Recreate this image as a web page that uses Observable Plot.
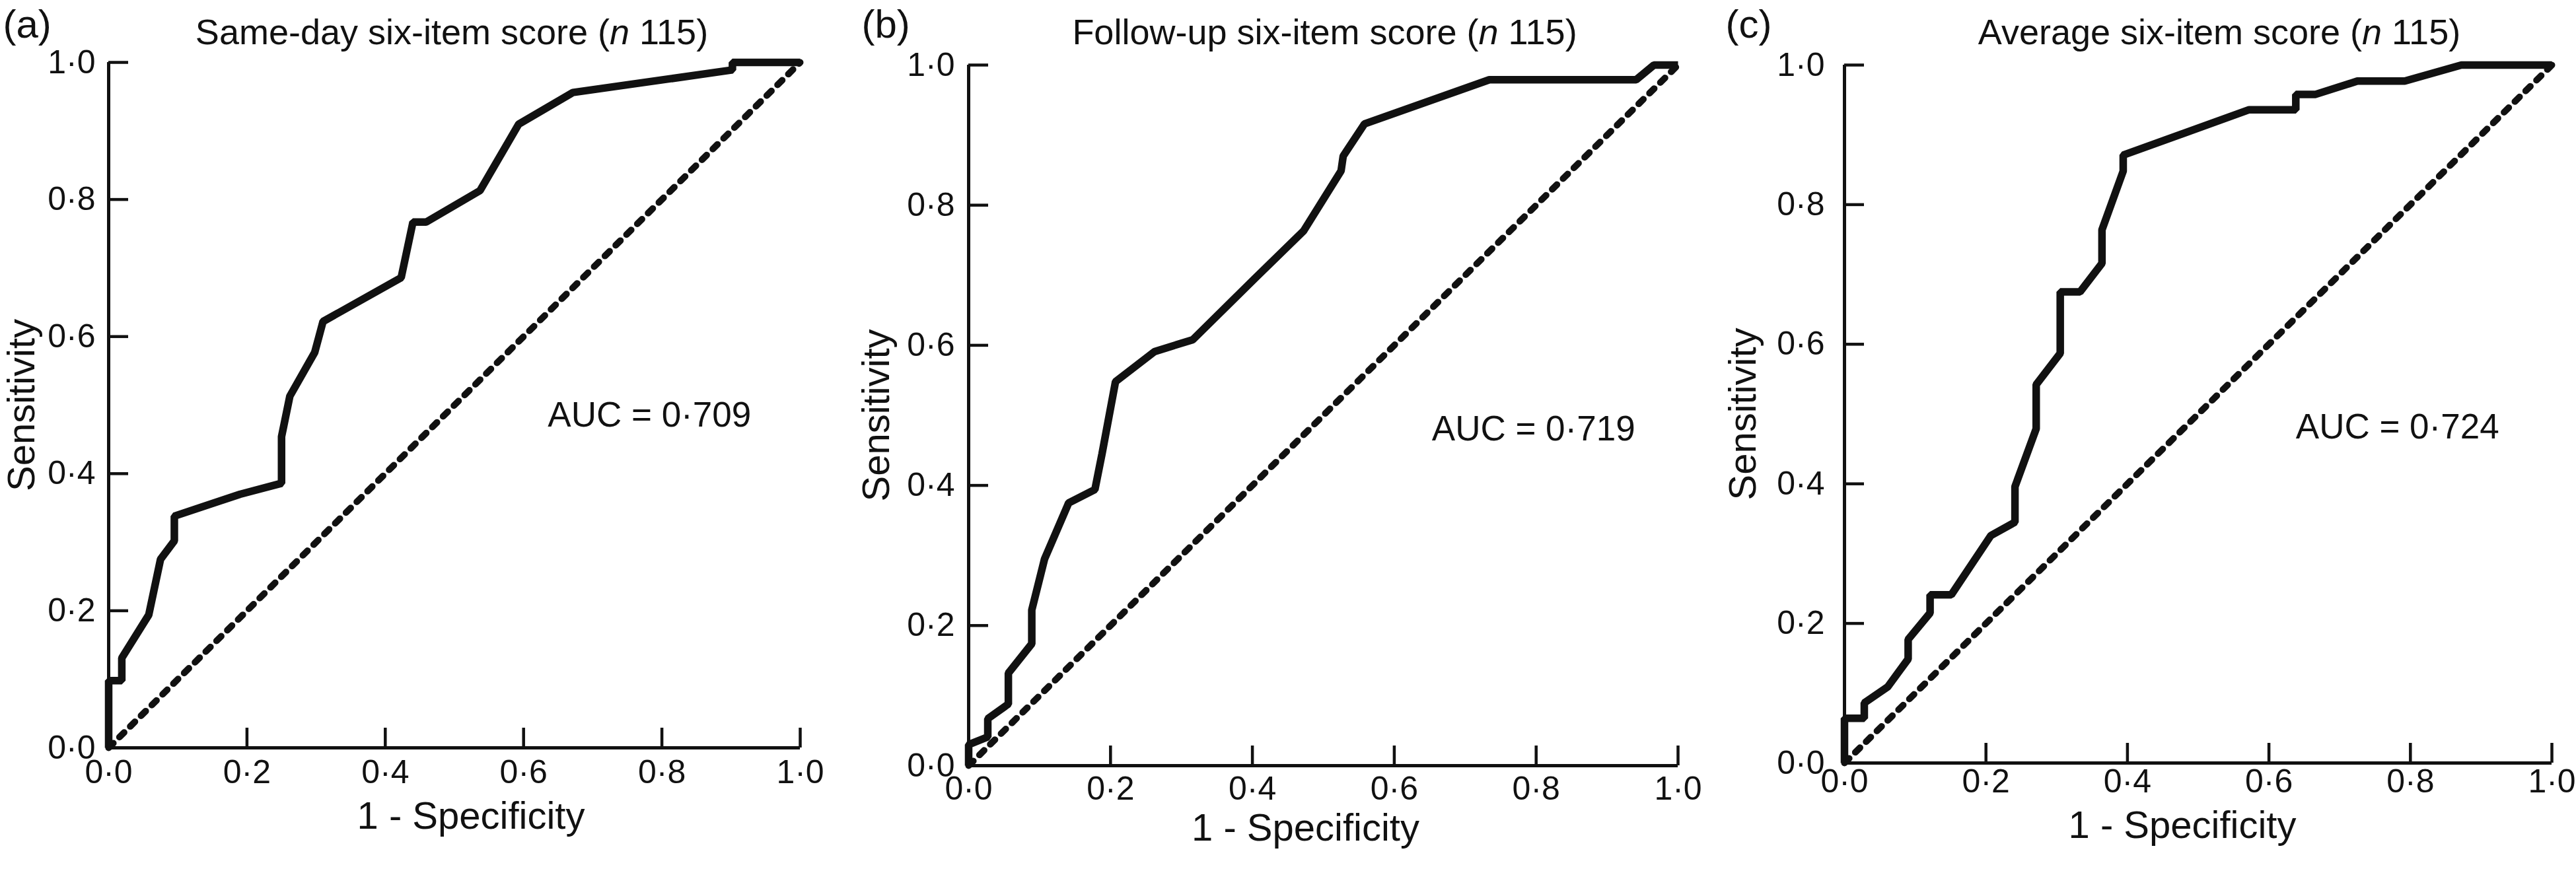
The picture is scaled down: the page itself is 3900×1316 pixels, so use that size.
<!DOCTYPE html>
<html>
<head>
<meta charset="utf-8">
<script src="https://cdn.jsdelivr.net/npm/d3@7"></script>
<script src="https://cdn.jsdelivr.net/npm/@observablehq/plot@0.6"></script>
<style>
  html, body { margin: 0; padding: 0; background: #fff; }
  #root { position: relative; width: 3900px; height: 1316px; overflow: hidden; background: #fff; }
  .panel { position: absolute; top: 0; }
</style>
</head>
<body>
<div id="root"></div>
<script>
// ---------- chart content ----------
const panelLabels = ["(a)", "(b)", "(c)"];
const titles = ["Same-day six-item score", "Follow-up six-item score", "Average six-item score"];
const sampleSizes = [115, 115, 115];
const aucLabels = ["AUC = 0·709", "AUC = 0·719", "AUC = 0·724"];
const xAxisLabel = "1 - Specificity";
const yAxisLabel = "Sensitivity";
const tickValues = [0, 0.2, 0.4, 0.6, 0.8, 1.0];
const tickLabels = ["0·0", "0·2", "0·4", "0·6", "0·8", "1·0"];
const chanceLine = [0, 1];

// ---------- ROC curves (1 - specificity, sensitivity) ----------
const sameDayFPR  = [0, 0, 0.019, 0.019, 0.058, 0.075, 0.095, 0.095, 0.19, 0.25, 0.25, 0.262, 0.298, 0.31, 0.423, 0.44, 0.459, 0.537, 0.593, 0.671, 0.902, 0.902, 1.0];
const sameDaySens = [0, 0.098, 0.098, 0.131, 0.194, 0.275, 0.302, 0.338, 0.37, 0.386, 0.454, 0.513, 0.577, 0.622, 0.686, 0.767, 0.767, 0.813, 0.91, 0.956, 0.989, 1.0, 1.0];

const followUpFPR  = [0, 0, 0.027, 0.027, 0.056, 0.056, 0.089, 0.089, 0.107, 0.141, 0.178, 0.188, 0.207, 0.262, 0.316, 0.404, 0.472, 0.525, 0.528, 0.558, 0.734, 0.941, 0.966, 1.0];
const followUpSens = [0, 0.03, 0.041, 0.067, 0.088, 0.132, 0.174, 0.222, 0.295, 0.375, 0.394, 0.445, 0.548, 0.591, 0.608, 0.696, 0.763, 0.849, 0.870, 0.916, 0.979, 0.979, 1.0, 1.0];

const averageFPR  = [0, 0, 0.028, 0.028, 0.061, 0.09, 0.09, 0.121, 0.121, 0.151, 0.207, 0.241, 0.241, 0.271, 0.271, 0.305, 0.305, 0.333, 0.364, 0.364, 0.394, 0.394, 0.572, 0.638, 0.638, 0.666, 0.725, 0.792, 0.872, 1.0];
const averageSens = [0, 0.064, 0.064, 0.086, 0.109, 0.149, 0.177, 0.215, 0.241, 0.241, 0.326, 0.345, 0.396, 0.479, 0.542, 0.587, 0.675, 0.675, 0.716, 0.764, 0.848, 0.871, 0.936, 0.936, 0.958, 0.958, 0.977, 0.977, 1.0, 1.0];

const curves = [
  [sameDayFPR, sameDaySens],
  [followUpFPR, followUpSens],
  [averageFPR, averageSens]
];

// ---------- layout (pixels) ----------
const layout = [
  {left: 0,    ml: 164, mr: 89, mt: 94, mb: 184, titleDx: -4,  titleDy: -28, labDx: -160, labDy: -38, yLabDx: -131, xLabDx: 25,  xLabDy: 122, aucX: 0.635, aucY: 0.469, yPad: 20, xPad: 18},
  {left: 1300, ml: 166, mr: 60, mt: 98, mb: 157, titleDx: 2,   titleDy: -32, labDx: -162, labDy: -42, yLabDx: -139, xLabDx: -27, xLabDy: 113, aucX: 0.653, aucY: 0.464, yPad: 21, xPad: 16},
  {left: 2600, ml: 192, mr: 37, mt: 98, mb: 161, titleDx: 32,  titleDy: -32, labDx: -180, labDy: -42, yLabDx: -153, xLabDx: -24, xLabDy: 113, aucX: 0.638, aucY: 0.465, yPad: 30, xPad: 9}
];

const INK = "#111";
const FONT = "'Liberation Sans', Arial, Helvetica, sans-serif";
const TICK = 30;
const fmt = d => tickLabels[tickValues.indexOf(d)];
const root = document.getElementById("root");

curves.forEach(([fpr, sens], i) => {
  const L = layout[i];
  const pts = fpr.map((x, j) => ({x, y: sens[j]}));
  const titleText = `${titles[i]} (n ${sampleSizes[i]})`;

  const chart = Plot.plot({
    width: 1300,
    height: 1316,
    marginLeft: L.ml, marginRight: L.mr, marginTop: L.mt, marginBottom: L.mb,
    style: {fontFamily: FONT, background: "white", overflow: "visible", color: INK},
    x: {domain: [0, 1], label: null},
    y: {domain: [0, 1], label: null},
    marks: [
      // chance diagonal
      Plot.line(chanceLine, {x: d => d, y: d => d, stroke: INK, strokeWidth: 10,
        strokeDasharray: "10,13", strokeLinecap: "round"}),
      // ROC curve
      Plot.line(pts, {x: "x", y: "y", stroke: INK, strokeWidth: 11.5,
        strokeLinejoin: "miter", strokeLinecap: "butt", curve: "linear"}),
      // axis lines
      Plot.ruleX([0], {stroke: INK, strokeWidth: 5}),
      Plot.ruleY([0], {stroke: INK, strokeWidth: 5}),
      // axes with inward ticks
      Plot.axisX(tickValues, {anchor: "bottom", tickSize: TICK, dy: -TICK, tickPadding: L.xPad,
        tickFormat: fmt, fontSize: 50, stroke: INK, fill: INK, strokeWidth: 4.5, label: null}),
      Plot.axisY(tickValues, {anchor: "left", tickSize: TICK, dx: TICK, tickPadding: L.yPad,
        tickFormat: fmt, fontSize: 50, stroke: INK, fill: INK, strokeWidth: 4.5, label: null}),
      // axis labels
      Plot.text([xAxisLabel], {frameAnchor: "bottom", dx: L.xLabDx, dy: L.xLabDy, lineAnchor: "bottom",
        fontSize: 58, fill: INK}),
      Plot.text([yAxisLabel], {frameAnchor: "left", dx: L.yLabDx, rotate: -90, lineAnchor: "middle",
        textAnchor: "middle", fontSize: 58, fill: INK}),
      // title and panel label
      Plot.text([titleText], {frameAnchor: "top", dx: L.titleDx, dy: L.titleDy, lineAnchor: "bottom",
        fontSize: 54, fill: INK}),
      Plot.text([panelLabels[i]], {frameAnchor: "top-left", dx: L.labDx, dy: L.labDy, lineAnchor: "bottom",
        textAnchor: "start", fontSize: 60, fill: INK}),
      // AUC annotation
      Plot.text([aucLabels[i]], {x: () => L.aucX, y: () => L.aucY, textAnchor: "start", lineAnchor: "bottom",
        fontSize: 53, fill: INK})
    ]
  });

  // italic "n" in the title
  chart.querySelectorAll("text").forEach(t => {
    if (t.textContent === titleText) {
      t.textContent = "";
      const ns = "http://www.w3.org/2000/svg";
      const a = document.createElementNS(ns, "tspan");
      a.textContent = `${titles[i]} (`;
      const b = document.createElementNS(ns, "tspan");
      b.setAttribute("font-style", "italic");
      b.textContent = "n";
      const c = document.createElementNS(ns, "tspan");
      c.textContent = ` ${sampleSizes[i]})`;
      t.append(a, b, c);
    }
  });

  const div = document.createElement("div");
  div.className = "panel";
  div.style.left = L.left + "px";
  div.appendChild(chart);
  root.appendChild(div);
});
</script>
</body>
</html>
